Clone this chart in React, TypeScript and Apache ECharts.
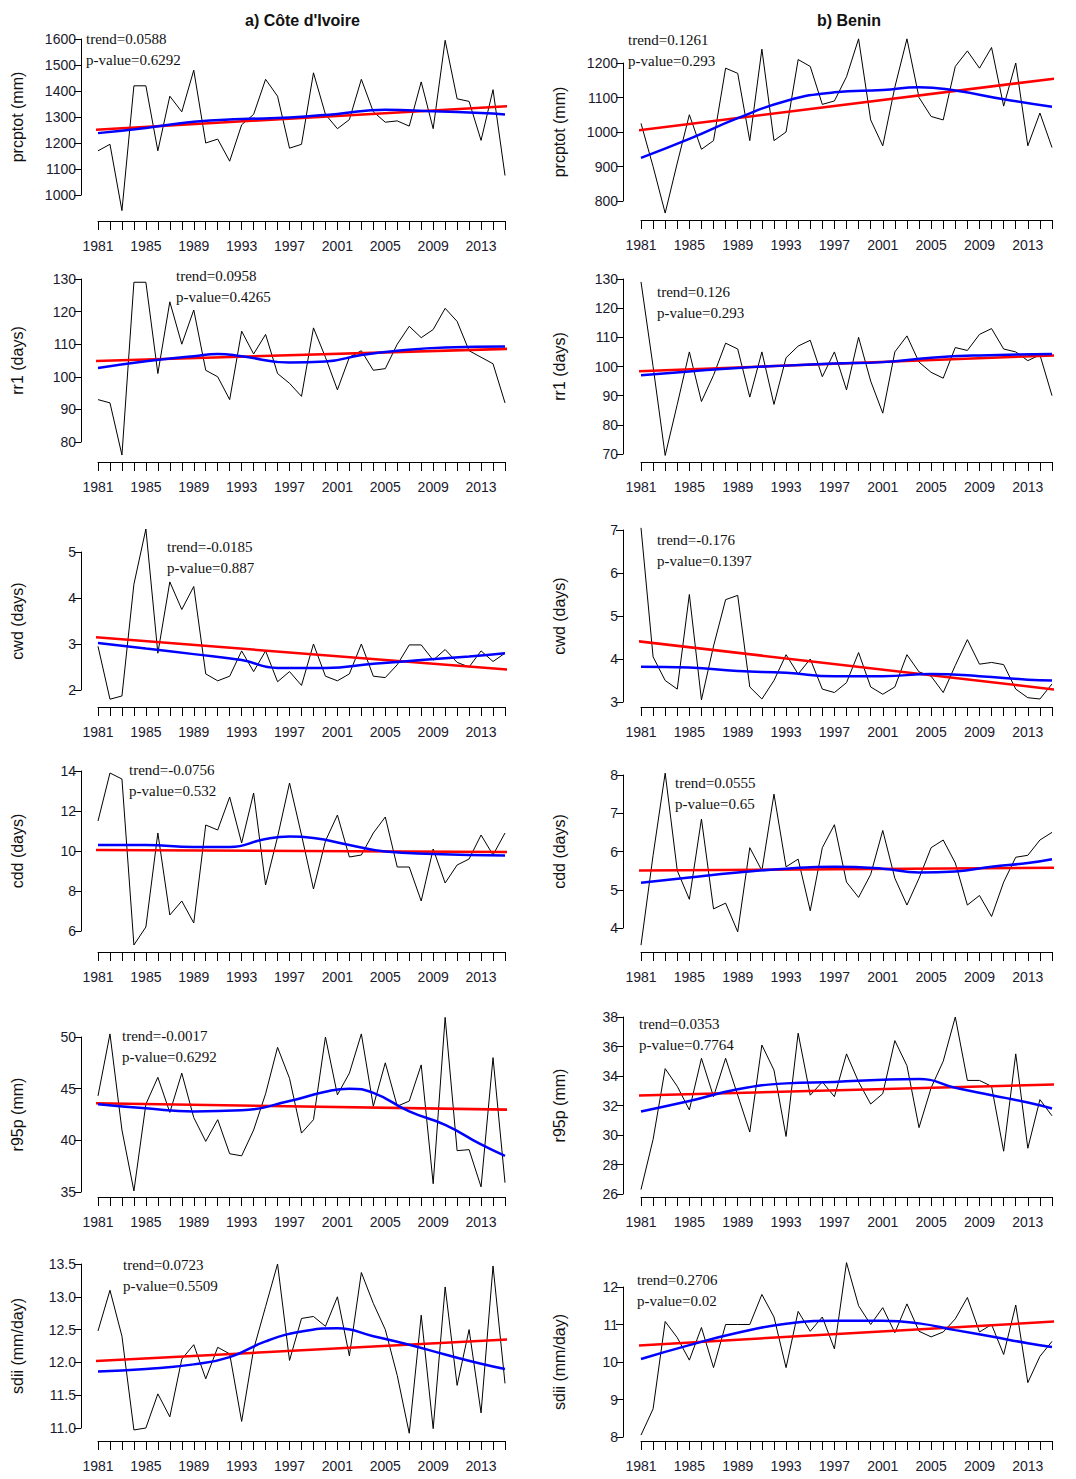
import React, { useEffect, useRef } from 'react';
import * as echarts from 'echarts';

const years = Array.from({ length: 35 }, (_, i) => 1981 + i);

// black yearly series
const ciPrcptot = [1170, 1195, 940, 1420, 1420, 1170, 1380, 1320, 1480, 1200, 1215, 1130, 1270, 1310, 1445, 1380, 1180, 1195, 1470, 1310, 1255, 1290, 1445, 1320, 1280, 1285, 1265, 1435, 1255, 1595, 1370, 1360, 1210, 1405, 1075];
const bjPrcptot = [1025, 900, 765, 910, 1050, 950, 975, 1185, 1170, 975, 1240, 975, 1000, 1210, 1190, 1080, 1090, 1160, 1270, 1035, 960, 1130, 1270, 1100, 1045, 1035, 1190, 1235, 1185, 1245, 1075, 1200, 960, 1055, 955];
const ciRr1 = [93, 92, 76, 129, 129, 101, 123, 110, 120.5, 102, 100, 93, 114, 107, 113, 101, 98, 94, 115, 106, 96, 106, 108, 102, 102.5, 110, 115.5, 112, 114.5, 121, 117, 108, 106, 104, 92];
const bjRr1 = [129, 100, 69.5, 87, 105, 88, 97, 108, 106, 89.5, 105, 87, 103, 107, 109, 96.5, 105, 92, 110, 95, 84, 105, 110.5, 101.5, 98, 96, 106.5, 105.5, 111, 113, 106, 105, 102, 104, 90];
const ciCwd = [2.95, 1.8, 1.87, 4.3, 5.5, 2.8, 4.35, 3.75, 4.25, 2.35, 2.2, 2.3, 2.85, 2.4, 2.85, 2.18, 2.4, 2.1, 3.0, 2.3, 2.2, 2.35, 3.0, 2.3, 2.27, 2.55, 2.98, 2.98, 2.65, 2.88, 2.6, 2.5, 2.85, 2.62, 2.8];
const bjCwd = [7.05, 4.05, 3.5, 3.3, 5.5, 3.05, 4.3, 5.38, 5.48, 3.35, 3.07, 3.5, 4.1, 3.65, 4.0, 3.3, 3.22, 3.45, 4.15, 3.35, 3.18, 3.35, 4.1, 3.7, 3.6, 3.22, 3.85, 4.45, 3.88, 3.92, 3.87, 3.3, 3.1, 3.07, 3.42];
const ciCdd = [11.5, 13.9, 13.6, 5.3, 6.2, 10.9, 6.8, 7.5, 6.4, 11.3, 11.05, 12.7, 10.4, 12.9, 8.3, 10.7, 13.4, 10.8, 8.1, 10.5, 11.8, 9.7, 9.8, 10.9, 11.7, 9.2, 9.2, 7.5, 10.1, 8.4, 9.3, 9.6, 10.8, 9.8, 10.9];
const bjCdd = [3.55, 5.9, 8.05, 5.5, 4.75, 6.85, 4.5, 4.65, 3.9, 6.1, 5.5, 7.5, 5.6, 5.8, 4.45, 6.1, 6.7, 5.2, 4.8, 5.4, 6.55, 5.3, 4.6, 5.3, 6.1, 6.3, 5.7, 4.6, 4.85, 4.3, 5.2, 5.85, 5.9, 6.3, 6.5];
const ciR95p = [44.3, 50.3, 41, 35.1, 43.5, 46.1, 42.7, 46.5, 42.2, 39.9, 42, 38.7, 38.5, 41, 44.5, 49, 46, 40.7, 42, 50, 44.4, 46.5, 50.3, 43.3, 47.5, 43.3, 43.8, 47.3, 35.8, 51.9, 39, 39.1, 35.5, 48, 35.9];
const bjR95p = [26.3, 29.7, 34.5, 33.3, 31.7, 35.2, 32.6, 35.2, 32.7, 30.2, 36.1, 34.4, 29.9, 36.9, 32.7, 33.6, 32.6, 35.5, 33.6, 32.1, 32.8, 36.4, 34.7, 30.5, 33.2, 35, 38, 33.7, 33.7, 33.3, 28.9, 35.5, 29.1, 32.4, 31.3];
const ciSdii = [12.48, 13.1, 12.4, 10.97, 11.0, 11.52, 11.17, 12.05, 12.27, 11.75, 12.23, 12.13, 11.1, 12.2, 12.85, 13.5, 12.03, 12.67, 12.7, 12.55, 13.0, 12.1, 13.37, 12.9, 12.5, 11.8, 10.92, 12.72, 10.99, 13.15, 11.65, 12.5, 11.23, 13.47, 11.68];
const bjSdii = [8.05, 8.75, 11.08, 10.65, 10.05, 10.92, 9.85, 11.0, 11.0, 11.0, 11.8, 11.2, 9.85, 11.35, 10.82, 11.2, 10.35, 12.65, 11.5, 11.0, 11.45, 10.78, 11.55, 10.82, 10.67, 10.8, 11.15, 11.72, 10.8, 11.0, 10.2, 11.52, 9.45, 10.15, 10.55];

// red trend line: value at the plot's left and right edges
const trendEdges = [1979.6, 2016.4];
const ciPrcptotTrend = [1248, 1345];
const bjPrcptotTrend = [1000, 1160];
const ciRr1Trend = [104.7, 108.7];
const bjRr1Trend = [98.2, 104];
const ciCwdTrend = [3.17, 2.42];
const bjCwdTrend = [4.45, 3.25];
const ciCddTrend = [10.05, 9.95];
const bjCddTrend = [5.5, 5.58];
const ciR95pTrend = [43.6, 42.95];
const bjR95pTrend = [32.65, 33.45];
const ciSdiiTrend = [12.01, 12.36];
const bjSdiiTrend = [10.42, 11.1];

// blue smooth curve: [year, value]
const ciPrcptotSmooth = [[1981, 1238], [1985, 1258], [1989, 1282], [1993, 1292], [1997, 1298], [2001, 1312], [2005, 1328], [2009, 1322], [2013, 1315], [2015, 1310]];
const bjPrcptotSmooth = [[1981, 925], [1985, 980], [1989, 1040], [1993, 1090], [1997, 1115], [2001, 1122], [2004, 1130], [2007, 1120], [2011, 1095], [2015, 1073]];
const ciRr1Smooth = [[1981, 102.7], [1985, 104.8], [1989, 106.3], [1991, 107], [1993, 106.3], [1997, 104.4], [2000, 104.7], [2003, 106.7], [2006, 108], [2010, 109], [2015, 109.3]];
const bjRr1Smooth = [[1981, 97], [1985, 98.3], [1989, 99.5], [1993, 100.3], [1997, 101], [2001, 101.5], [2005, 103], [2009, 103.8], [2015, 104.3]];
const ciCwdSmooth = [[1981, 3.02], [1985, 2.9], [1989, 2.78], [1993, 2.65], [1996, 2.48], [2000, 2.48], [2004, 2.57], [2008, 2.65], [2012, 2.73], [2015, 2.8]];
const bjCwdSmooth = [[1981, 3.82], [1985, 3.8], [1989, 3.72], [1993, 3.68], [1997, 3.6], [2001, 3.6], [2005, 3.65], [2009, 3.6], [2013, 3.52], [2015, 3.5]];
const ciCddSmooth = [[1981, 10.3], [1985, 10.3], [1989, 10.2], [1992, 10.2], [1995, 10.6], [1997, 10.72], [1999, 10.65], [2002, 10.3], [2005, 9.97], [2009, 9.85], [2015, 9.78]];
const bjCddSmooth = [[1981, 5.18], [1985, 5.32], [1989, 5.45], [1993, 5.55], [1997, 5.6], [2001, 5.55], [2004, 5.45], [2007, 5.48], [2010, 5.6], [2013, 5.7], [2015, 5.8]];
const ciR95pSmooth = [[1981, 43.5], [1985, 43.1], [1989, 42.8], [1993, 42.9], [1997, 43.8], [2000, 44.7], [2002, 45], [2004, 44.6], [2007, 42.8], [2010, 41.5], [2013, 39.6], [2015, 38.5]];
const bjR95pSmooth = [[1981, 31.6], [1985, 32.3], [1989, 33.1], [1993, 33.5], [1997, 33.6], [2001, 33.75], [2004, 33.8], [2007, 33.2], [2010, 32.7], [2013, 32.2], [2015, 31.8]];
const ciSdiiSmooth = [[1981, 11.86], [1985, 11.9], [1989, 11.97], [1992, 12.08], [1995, 12.32], [1998, 12.47], [2001, 12.52], [2004, 12.4], [2007, 12.27], [2010, 12.12], [2013, 11.98], [2015, 11.9]];
const bjSdiiSmooth = [[1981, 10.08], [1985, 10.45], [1989, 10.78], [1993, 11.02], [1997, 11.1], [2001, 11.1], [2004, 11.03], [2007, 10.85], [2010, 10.68], [2013, 10.5], [2015, 10.4]];

const trendLabels = ['trend=0.0588', 'trend=0.1261', 'trend=0.0958', 'trend=0.126', 'trend=-0.0185', 'trend=-0.176', 'trend=-0.0756', 'trend=0.0555', 'trend=-0.0017', 'trend=0.0353', 'trend=0.0723', 'trend=0.2706'];
const pLabels = ['p-value=0.6292', 'p-value=0.293', 'p-value=0.4265', 'p-value=0.293', 'p-value=0.887', 'p-value=0.1397', 'p-value=0.532', 'p-value=0.65', 'p-value=0.6292', 'p-value=0.7764', 'p-value=0.5509', 'p-value=0.02'];
const yNames = ['prcptot (mm)', 'rr1 (days)', 'cwd (days)', 'cdd (days)', 'r95p (mm)', 'sdii (mm/day)'];

// panel geometry, pixels
const colX = [{ axis: 81, x0: 98, x1: 505 }, { axis: 623, x0: 641, x1: 1052 }];
const panels = [
  { s: ciPrcptot, t: ciPrcptotTrend, m: ciPrcptotSmooth, min: 1000, max: 1600, step: 100, top: 39, bot: 195, xa: 221, tx: 86, ty: 40 },
  { s: bjPrcptot, t: bjPrcptotTrend, m: bjPrcptotSmooth, min: 800, max: 1200, step: 100, top: 63, bot: 201, xa: 220, tx: 628, ty: 41 },
  { s: ciRr1, t: ciRr1Trend, m: ciRr1Smooth, min: 80, max: 130, step: 10, top: 279, bot: 442, xa: 462, tx: 176, ty: 277 },
  { s: bjRr1, t: bjRr1Trend, m: bjRr1Smooth, min: 70, max: 130, step: 10, top: 279, bot: 454, xa: 462, tx: 657, ty: 293 },
  { s: ciCwd, t: ciCwdTrend, m: ciCwdSmooth, min: 2, max: 5, step: 1, top: 552, bot: 690, xa: 707, tx: 167, ty: 548 },
  { s: bjCwd, t: bjCwdTrend, m: bjCwdSmooth, min: 3, max: 7, step: 1, top: 530, bot: 702, xa: 707, tx: 657, ty: 541 },
  { s: ciCdd, t: ciCddTrend, m: ciCddSmooth, min: 6, max: 14, step: 2, top: 771, bot: 931, xa: 952, tx: 129, ty: 771 },
  { s: bjCdd, t: bjCddTrend, m: bjCddSmooth, min: 4, max: 8, step: 1, top: 775, bot: 928, xa: 952, tx: 675, ty: 784 },
  { s: ciR95p, t: ciR95pTrend, m: ciR95pSmooth, min: 35, max: 50, step: 5, top: 1037, bot: 1192, xa: 1197, tx: 122, ty: 1037 },
  { s: bjR95p, t: bjR95pTrend, m: bjR95pSmooth, min: 26, max: 38, step: 2, top: 1017, bot: 1194, xa: 1197, tx: 639, ty: 1025 },
  { s: ciSdii, t: ciSdiiTrend, m: ciSdiiSmooth, min: 11, max: 13.5, step: 0.5, top: 1264, bot: 1428, xa: 1441, tx: 123, ty: 1266 },
  { s: bjSdii, t: bjSdiiTrend, m: bjSdiiSmooth, min: 8, max: 12, step: 1, top: 1287, bot: 1437, xa: 1441, tx: 637, ty: 1281 },
];

const buildOption = () => {
  const grid: any[] = [];
  const xAxis: any[] = [];
  const yAxis: any[] = [];
  const series: any[] = [];
  const graphic: any[] = [
    { type: 'text', left: 245, top: 12, style: { text: "a) Côte d'Ivoire", font: 'bold 16px "Liberation Sans", Arial', fill: '#111' } },
    { type: 'text', left: 817, top: 12, style: { text: 'b) Benin', font: 'bold 16px "Liberation Sans", Arial', fill: '#111' } },
  ];

  panels.forEach((p, i) => {
    const c = colX[i % 2];
    grid.push({ left: c.x0, top: p.top, width: c.x1 - c.x0, height: p.bot - p.top });
    xAxis.push({
      gridIndex: i, type: 'value', min: 1981, max: 2015, interval: 1,
      offset: p.xa - p.bot,
      axisLine: { show: true, lineStyle: { color: '#000', width: 1 } },
      axisTick: { show: true, length: 9, lineStyle: { color: '#000' } },
      splitLine: { show: false },
      axisLabel: {
        margin: 18, color: '#1a1a2e', fontSize: 14, fontFamily: '"Liberation Sans", Arial',
        formatter: (v: number) => ((v - 1981) % 4 === 0 && v <= 2013 ? String(v) : ''),
      },
    });
    yAxis.push({
      gridIndex: i, type: 'value', min: p.min, max: p.max, interval: p.step,
      offset: c.x0 - c.axis,
      name: yNames[Math.floor(i / 2)], nameLocation: 'middle', nameGap: 56,
      nameTextStyle: { color: '#111', fontSize: 16, fontFamily: '"Liberation Sans", Arial' },
      axisLine: { show: true, lineStyle: { color: '#000', width: 1 } },
      axisTick: { show: true, length: 7, lineStyle: { color: '#000' } },
      splitLine: { show: false },
      axisLabel: {
        margin: 5, color: '#1a1a2e', fontSize: 14, fontFamily: '"Liberation Sans", Arial',
        formatter: (v: number) => (p.step < 1 ? v.toFixed(1) : String(v)),
      },
    });
    series.push({
      type: 'line', xAxisIndex: i, yAxisIndex: i, clip: false, symbol: 'none',
      data: years.map((y, k) => [y, p.s[k]]),
      lineStyle: { color: '#000', width: 1 },
    });
    series.push({
      type: 'line', xAxisIndex: i, yAxisIndex: i, clip: false, symbol: 'none',
      data: trendEdges.map((y, k) => [y, p.t[k]]),
      lineStyle: { color: '#ff0000', width: 2.5 },
    });
    series.push({
      type: 'line', xAxisIndex: i, yAxisIndex: i, clip: false, symbol: 'none', smooth: 0.5,
      data: p.m,
      lineStyle: { color: '#0000ff', width: 2.5 },
    });
    graphic.push({ type: 'text', left: p.tx, top: p.ty - 9, style: { text: trendLabels[i], font: '15px "Liberation Serif", "Times New Roman", serif', fill: '#111' } });
    graphic.push({ type: 'text', left: p.tx, top: p.ty + 12, style: { text: pLabels[i], font: '15px "Liberation Serif", "Times New Roman", serif', fill: '#111' } });
  });

  return { animation: false, backgroundColor: '#fff', grid, xAxis, yAxis, series, graphic };
};

const App: React.FC = () => {
  const ref = useRef<HTMLDivElement>(null);

  useEffect(() => {
    if (!ref.current) return;
    const chart = echarts.init(ref.current, undefined, { renderer: 'svg' });
    chart.setOption(buildOption());
    return () => chart.dispose();
  }, []);

  return (
    <div
      ref={ref}
      style={{ position: 'absolute', left: 0, top: 0, width: 1076, height: 1479, background: '#fff' }}
    />
  );
};

export default App;
